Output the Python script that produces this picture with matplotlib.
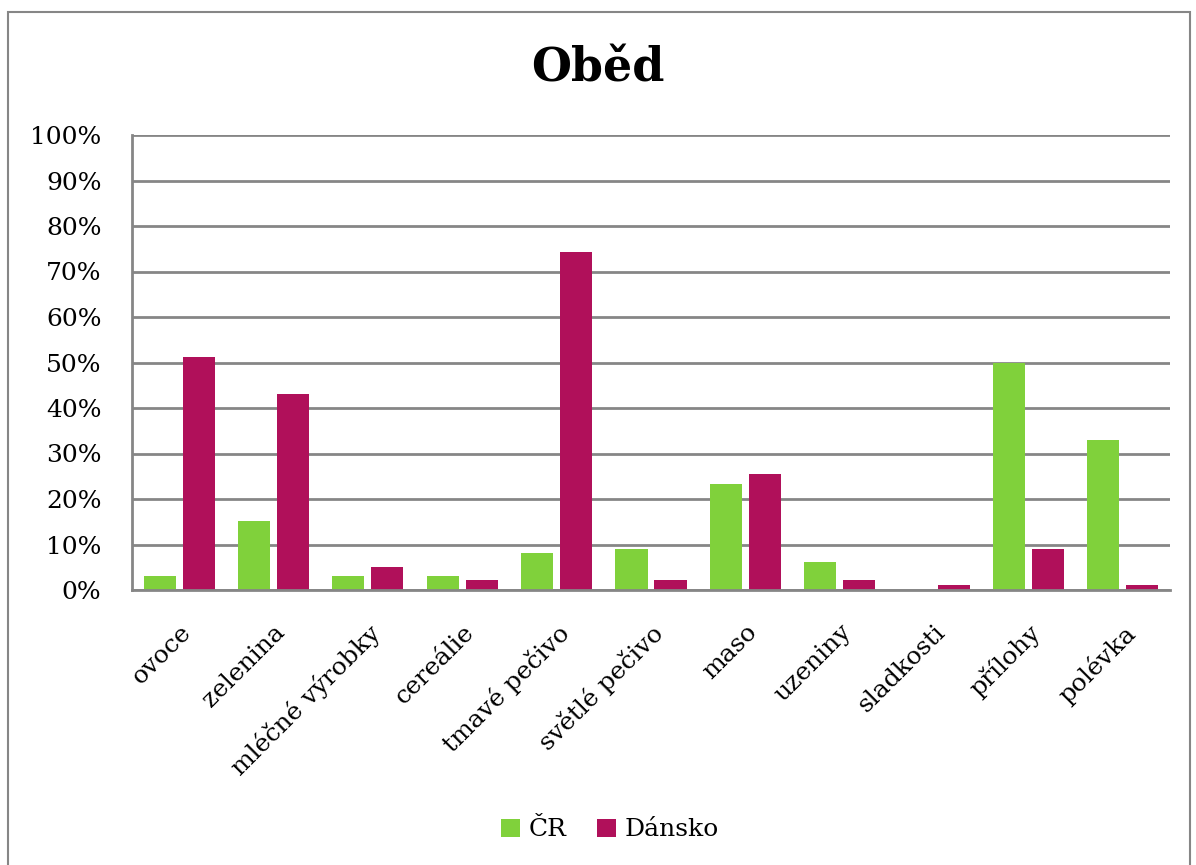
import numpy as np
import matplotlib
matplotlib.use('Agg')
import matplotlib.pyplot as plt
from matplotlib.patches import Rectangle
from matplotlib.ticker import FuncFormatter

kategorie = ['ovoce', 'zelenina', 'mléčné výrobky', 'cereálie', 'tmavé pečivo',
             'světlé pečivo', 'maso', 'uzeniny', 'sladkosti', 'přílohy', 'polévka']
cr = [3.1, 15.2, 3.1, 3.1, 8.2, 9.1, 23.2, 6.1, 0.0, 50.0, 33.0]
dansko = [51.1, 43.0, 5.1, 2.1, 74.3, 2.1, 25.4, 2.1, 1.1, 9.1, 1.1]

zelena = '#80d13b'
fialova = '#b0105a'
seda = '#868686'

plt.rcParams['font.family'] = ['DejaVu Serif']

fig = plt.figure(figsize=(11.96, 8.65), dpi=100)
ax = fig.add_axes([132 / 1196, 1 - 590 / 865, (1170 - 132) / 1196, (590 - 135) / 865])

x = np.arange(len(kategorie))
w = 0.34
ax.bar(x - 0.207, cr, w, color=zelena, label='ČR', zorder=3)
ax.bar(x + 0.207, dansko, w, color=fialova, label='Dánsko', zorder=3)

ax.set_xlim(-0.5, len(kategorie) - 0.5)
ax.set_ylim(0, 100)
ax.set_yticks(np.arange(0, 101, 10))
ax.yaxis.set_major_formatter(FuncFormatter(lambda v, p: '%d%%' % v))
ax.grid(axis='y', color=seda, linewidth=2, zorder=0)
for s in ['top', 'right']:
    ax.spines[s].set_visible(False)
for s in ['left', 'bottom']:
    ax.spines[s].set_color(seda)
    ax.spines[s].set_linewidth(2)
    ax.spines[s].set_zorder(4)
ax.tick_params(axis='y', length=0, labelsize=18, pad=22)
ax.tick_params(axis='x', length=0, labelsize=18, pad=22)
ax.set_xticks(x)
ax.set_xticklabels(kategorie, rotation=45, ha='right', rotation_mode='anchor')

fig.text(0.5, 1 - 68 / 865, 'Oběd', ha='center', va='center',
         fontsize=33, fontweight='bold')

fig.legend(loc='center', bbox_to_anchor=(0.51, 1 - 830 / 865), ncol=2,
           frameon=False, fontsize=18, handlelength=0.75, handleheight=0.75,
           handletextpad=0.35, columnspacing=1.2)

# rámeček kolem grafu
fig.patches.append(Rectangle((8 / 1196, -0.05), 1182 / 1196, 1.05 - 12 / 865,
                             transform=fig.transFigure, fill=False,
                             edgecolor=seda, linewidth=1.5))

fig.savefig('out.png', dpi=100)
